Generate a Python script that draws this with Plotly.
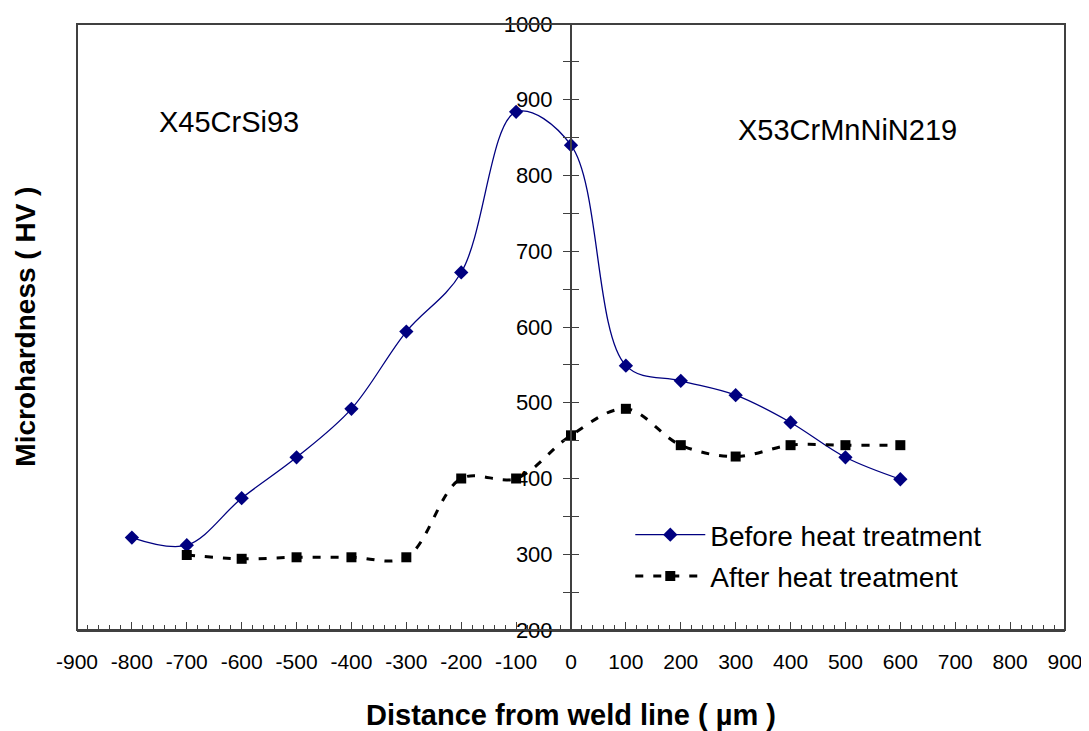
import plotly.graph_objects as go

# ---- data ----
distance = [-800, -700, -600, -500, -400, -300, -200, -100, 0, 100, 200, 300, 400, 500, 600]
before_hv = [322, 312, 374, 428, 492, 594, 672, 884, 840, 549, 529, 510, 474, 428, 399]

distance_after = [-700, -600, -500, -400, -300, -200, -100, 0, 100, 200, 300, 400, 500, 600]
after_hv = [299, 294, 296, 296, 296, 400, 400, 457, 492, 444, 429, 444, 444, 444]

x_tickvals = list(range(-900, 1000, 100))
x_ticktext = [str(v) for v in x_tickvals]
y_tickvals = list(range(200, 1100, 100))
y_ticktext = [str(v) for v in y_tickvals]

FONT = "Liberation Sans, Arial, sans-serif"
AXC = "#404040"

fig = go.Figure()

fig.add_trace(go.Scatter(
    x=distance, y=before_hv, name="Before heat treatment", legendgroup="a",
    mode="lines+markers",
    line=dict(color="#000080", width=1.3, shape="spline", smoothing=1.0),
    marker=dict(symbol="diamond", size=11, color="#000080"),
))
fig.add_trace(go.Scatter(
    x=distance_after, y=after_hv, name="After heat treatment", legendgroup="b",
    mode="lines+markers",
    line=dict(color="black", width=3, shape="spline", smoothing=1.0, dash="8px,10px"),
    marker=dict(symbol="square", size=10, color="black"),
))

fig.update_layout(
    width=1081, height=723,
    margin=dict(l=69, r=24, t=16, b=101, autoexpand=False),
    paper_bgcolor="white", plot_bgcolor="white",
    font=dict(family=FONT, color="black", size=20),
    showlegend=True,
    legend=dict(
        x=0.56, y=0.198, xanchor="left", yanchor="top",
        bgcolor="rgba(0,0,0,0)", font=dict(size=28, family=FONT),
        itemwidth=70, tracegroupgap=2,
    ),
    xaxis=dict(
        range=[-900, 900], tickvals=x_tickvals, ticktext=x_ticktext,
        ticks="inside", ticklen=8, tickwidth=1.3, tickcolor=AXC,
        minor=dict(dtick=20, ticks="inside", ticklen=5, tickwidth=1.3, tickcolor=AXC),
        showgrid=False, zeroline=False, showline=True, linecolor=AXC, linewidth=2,
        tickfont=dict(size=21, family=FONT), automargin=False,
        ticklabelstandoff=12,
        title=dict(text="<b>Distance from weld line ( µm )</b>", font=dict(size=29, family=FONT), standoff=35),
    ),
    yaxis=dict(
        range=[200, 1000], tickvals=y_tickvals, ticktext=y_ticktext,
        anchor="free", position=0.5, side="left",
        ticks="outside", ticklen=7, tickwidth=1.3, tickcolor=AXC,
        minor=dict(dtick=50, ticks="outside", ticklen=7, tickwidth=1.3, tickcolor=AXC),
        showgrid=False, zeroline=False, showline=True, linecolor=AXC, linewidth=2,
        tickfont=dict(size=22, family=FONT), automargin=False, ticklabelstandoff=6,
    ),
    yaxis2=dict(
        range=[200, 1000], overlaying="y", anchor="free", position=0.5, side="left",
        tickvals=y_tickvals, ticks="inside", ticklen=7, tickwidth=1.3, tickcolor=AXC,
        minor=dict(dtick=50, ticks="inside", ticklen=7, tickwidth=1.3, tickcolor=AXC),
        showticklabels=False, showgrid=False, zeroline=False, showline=False, automargin=False,
    ),
    shapes=[dict(type="rect", xref="paper", yref="paper", x0=0, y0=0, x1=1, y1=1,
                 line=dict(color=AXC, width=2), layer="above")],
    annotations=[
        dict(text="X45CrSi93", x=-623, y=870, xref="x", yref="y", showarrow=False,
             font=dict(size=29, family=FONT)),
        dict(text="X53CrMnNiN219", x=503, y=860, xref="x", yref="y", showarrow=False,
             font=dict(size=29, family=FONT)),
        dict(text="<b>Microhardness ( HV )</b>", x=-0.053, y=0.5, xref="paper", yref="paper",
             textangle=-90, showarrow=False, font=dict(size=28, family=FONT),
             xanchor="center", yanchor="middle"),
    ],
)

# invisible trace to activate the overlay axis that draws the inner half of the crossing ticks
fig.add_trace(go.Scatter(x=[0], y=[500], yaxis="y2", mode="markers",
                         marker=dict(opacity=0), showlegend=False, hoverinfo="skip"))

fig.write_html("out.html")
